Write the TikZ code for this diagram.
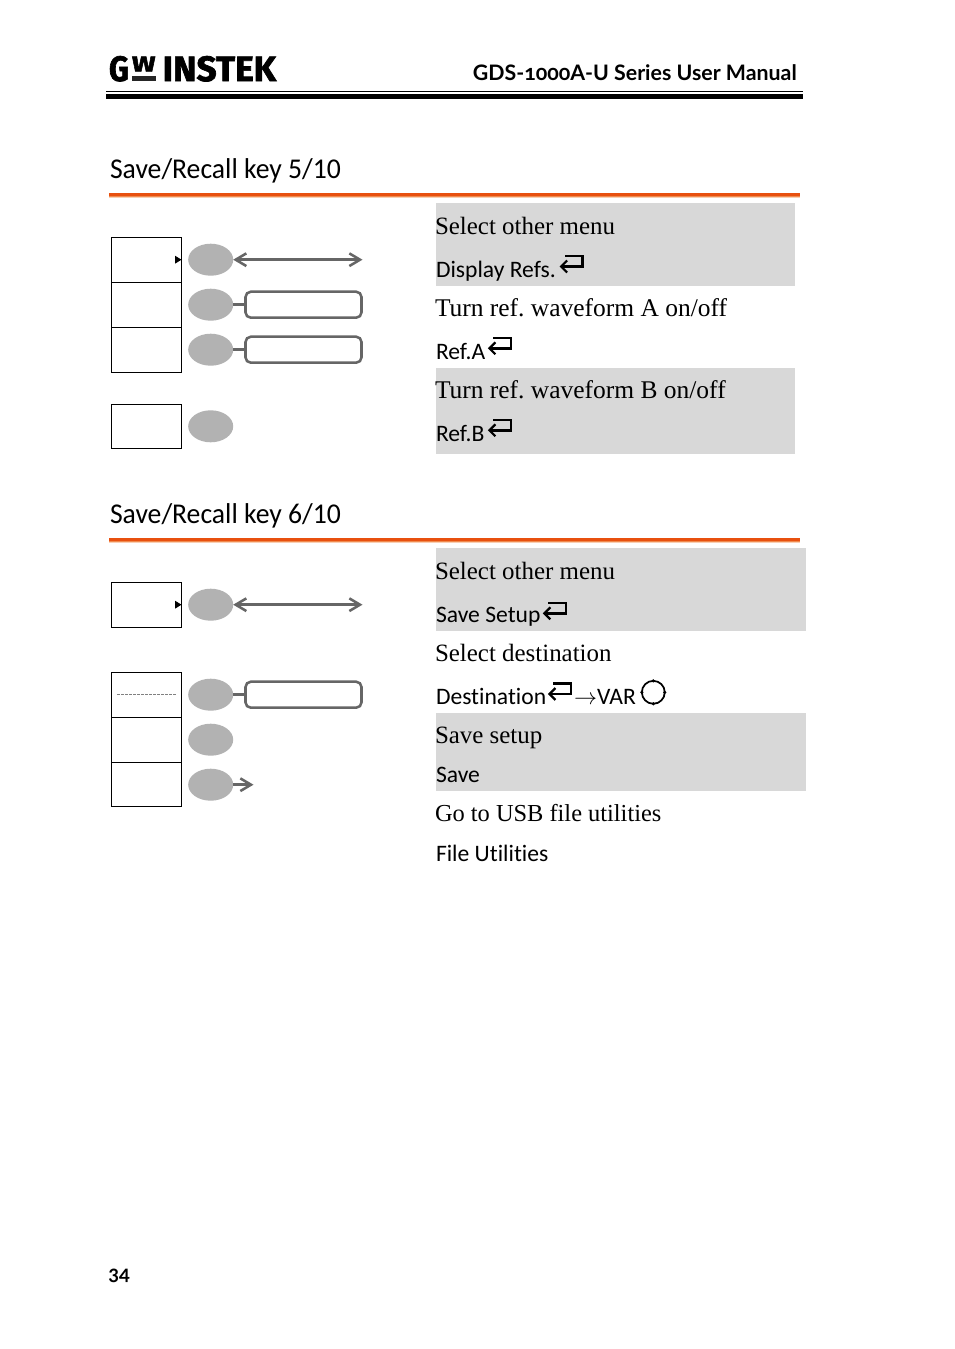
\documentclass[tikz,border=0pt]{standalone}
\usepackage{fontspec}
\usepackage{graphicx}
\usetikzlibrary{arrows.meta,shapes.geometric}
\setmainfont{Liberation Serif}
\newfontfamily\uifont[Ligatures=CommonOff]{Carlito}
\newfontfamily\titlefont[Ligatures=CommonOff,FakeStretch=0.965]{Carlito}
\newfontfamily\hdfont[Numbers=OldStyle]{Lato}
\newfontfamily\logofont[FakeBold=2]{Fira Sans}
\definecolor{panel}{HTML}{D8D8D8}
\definecolor{keygray}{HTML}{B2B2B2}
\definecolor{linkgray}{HTML}{666666}
\definecolor{rulea}{HTML}{E8500F}
\definecolor{rulem}{HTML}{F08A4E}
\definecolor{ruleb}{HTML}{F9CFB4}
\tikzset{
  x=0.75pt,y=-0.75pt,
  softkey/.style={draw=black,line width=0.9pt,minimum width=52.8pt,minimum height=33.75pt,inner sep=0pt,outer sep=0pt},
  softkeyb/.style={softkey,minimum height=33pt},
  knob/.style={ellipse,fill=keygray,minimum width=33.75pt,minimum height=24pt,inner sep=0pt,outer sep=0pt},
  slot/.style={draw=linkgray,line width=1.9pt,rounded corners=4pt,minimum width=87pt,minimum height=19.5pt,inner sep=0pt,outer sep=0pt},
  link/.style={draw=linkgray,line width=1.9pt},
  bothways/.style={link,{Straight Barb[length=8pt,width=9.5pt,line width=1.9pt]}-{Straight Barb[length=8pt,width=9.5pt,line width=1.9pt]}},
  oneway/.style={link,-{Straight Barb[length=8pt,width=9.5pt,line width=1.9pt]}},
  desc/.style={anchor=base west,inner sep=0pt,outer sep=0pt,font=\frenchspacing\fontsize{18.7}{20}\selectfont},
  descwide/.style={desc,font=\frenchspacing\fontsize{19.1}{20}\selectfont},
  descnarrow/.style={desc,font=\frenchspacing\fontsize{18.3}{20}\selectfont},
  keyname/.style={anchor=base west,inner sep=0pt,outer sep=0pt,font=\uifont\fontsize{17.7}{20}\selectfont},
  title/.style={anchor=base west,inner sep=0pt,outer sep=0pt,font=\titlefont\fontsize{21.5}{24}\selectfont},
  logopart/.style={anchor=north west,inner sep=0pt,outer sep=0pt,font=\logofont\bfseries\fontsize{26}{28}\selectfont},
  enter/.pic={\draw[black,line width=1.9pt,{Straight Barb[length=4.5pt,width=9pt,line width=1.7pt]}-] (0,0) -- (23,0) -- (23,-10.5) -- (5,-10.5);},
  marker/.pic={\fill[black] (-6.5,-4) -- (0,0) -- (-6.5,4) -- cycle;},
}
\begin{document}
\begin{tikzpicture}
\useasboundingbox (0,0) rectangle (954,1349);
\fill[white] (0,0) rectangle (954,1349);
% header
\node[logopart] (logog) at (109,56) {\resizebox{15pt}{18.75pt}{G}};
\node[logopart] (logow) at (132,56.5) {\resizebox{17.6pt}{11.25pt}{W}};
\node[logopart] (logoi) at (162.7,56) {\resizebox{85pt}{18.75pt}{INSTEK}};
\fill[black!85] (132,76.2) rectangle (155.7,81);
\node[anchor=base east,inner sep=0pt,font=\hdfont\bfseries\fontsize{16}{20}\selectfont] (manual) at (797,80) {GDS-1000A-U Series User Manual};
\fill[black] (106,91.2) rectangle (803,92.2);
\fill[black] (106,93.7) rectangle (803,99);
% section rules
\foreach \yy in {193,538}{
  \fill[rulea] (109,\yy) rectangle (800,\yy+2.6);
  \fill[rulem] (109,\yy+2.6) rectangle (800,\yy+3.6);
  \fill[ruleb] (109,\yy+3.6) rectangle (800,\yy+5);
}
% panels
\fill[panel] (436,203) rectangle (795,286);
\fill[panel] (436,368) rectangle (795,454);
\fill[panel] (436,548) rectangle (806,631);
\fill[panel] (436,713) rectangle (806,791);
% titles
\node[title] (t5) at (110,178) {Save/Recall key 5/10};
\node[title] (t6) at (110,523) {Save/Recall key 6/10};
% section 5 keys
\node[softkey] (a1) at (146.5,259.8) {};
\node[softkey] (a2) at (146.5,304.8) {};
\node[softkey] (a3) at (146.5,349.8) {};
\node[softkeyb] (a4) at (146.5,426.3) {};
\node[knob] (ka1) at (210.7,259.7) {};
\node[knob] (ka2) at (210.7,304.7) {};
\node[knob] (ka3) at (210.7,349.7) {};
\node[knob] (ka4) at (210.7,426.3) {};
\coordinate (enda1) at (362.5,259.7);
\node[slot] (sa2) at (303.5,304.7) {};
\node[slot] (sa3) at (303.5,349.7) {};
\draw[bothways] (ka1.east) -- (enda1);
\draw[link] (ka2) -- (sa2);
\draw[link] (ka3) -- (sa3);
\pic at (181.5,259.7) {marker};
% section 6 keys
\node[softkey] (b1) at (146.5,604.8) {};
\node[softkey] (b2) at (146.5,694.8) {};
\node[softkey] (b3) at (146.5,739.8) {};
\node[softkeyb] (b4) at (146.5,784.3) {};
\node[knob] (kb1) at (210.7,604.7) {};
\node[knob] (kb2) at (210.7,694.7) {};
\node[knob] (kb3) at (210.7,739.7) {};
\node[knob] (kb4) at (210.7,784.7) {};
\coordinate (endb1) at (362.5,604.7);
\coordinate (endb4) at (253.5,784.7);
\node[slot] (sb2) at (303.5,694.7) {};
\draw[bothways] (kb1.east) -- (endb1);
\draw[link] (kb2) -- (sb2);
\draw[oneway] (kb4.east) -- (endb4);
\pic at (181.5,604.7) {marker};
\draw[gray,line width=0.5pt,dash pattern=on 2pt off 1pt] (117,694.3) -- (176,694.3);
% section 5 text
\node[desc] (d1) at (435,234.5) {Select other menu};
\node[keyname] (n1) at (436,277.5) {Display Refs.};
\pic at (559.5,266.5) {enter};
\node[descwide] (d2) at (435,316.5) {Turn ref. waveform A on/off};
\node[keyname] (n2) at (436,359) {Ref.A};
\pic at (487.8,348.3) {enter};
\node[descwide] (d3) at (435,398.5) {Turn ref. waveform B on/off};
\node[keyname] (n3) at (436,441) {Ref.B};
\pic at (487.8,430.3) {enter};
% section 6 text
\node[desc] (d4) at (435,579.5) {Select other menu};
\node[keyname] (n4) at (436,622) {Save Setup};
\pic at (542.8,613.3) {enter};
\node[desc] (d5) at (435,661.5) {Select destination};
\node[keyname] (n5) at (436,704) {Destination};
\pic at (547.8,694) {enter};
\node[keyname] (n5b) at (574,704) {$\rightarrow$VAR};
\draw[black,line width=1.3pt] (653.3,692.3) circle[radius=8.6pt];
\foreach \aa in {0,90,180,270}{\fill[black] (653.3,692.3) ++(\aa:8.6pt) circle[radius=1.3pt];}
\node[desc] (d6) at (435,743.5) {Save setup};
\node[keyname] (n6) at (436,782) {Save};
\node[descnarrow] (d7) at (435,821.5) {Go to USB file utilities};
\node[keyname] (n7) at (436,861) {File Utilities};
% page number
\node[anchor=base west,inner sep=0pt,font=\hdfont\bfseries\fontsize{15}{18}\selectfont] (pg) at (108,1280) {34};
\end{tikzpicture}
\end{document}
